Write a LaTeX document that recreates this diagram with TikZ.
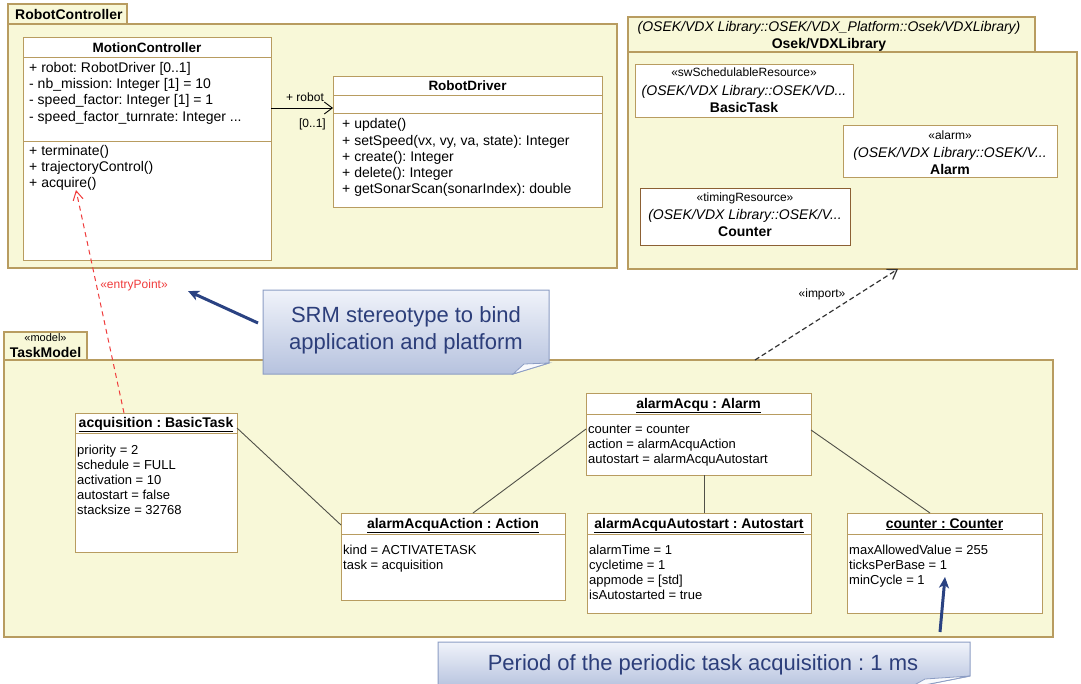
\documentclass[tikz,border=0pt]{standalone}
\usepackage{fontspec}
\setmainfont{Liberation Sans}
\usetikzlibrary{arrows.meta}

\definecolor{pkgfill}{RGB}{248,248,216}
\definecolor{tan}{RGB}{184,156,96}
\definecolor{darktan}{RGB}{140,96,52}
\definecolor{linkgrey}{RGB}{80,80,72}
\definecolor{epred}{RGB}{240,60,60}
\definecolor{noteTop}{RGB}{240,243,250}
\definecolor{noteBot}{RGB}{182,194,222}
\definecolor{noteLine}{RGB}{140,157,196}
\definecolor{noteText}{RGB}{44,62,122}
\definecolor{noteArrow}{RGB}{42,66,130}

\begin{document}
\frenchspacing
\begin{tikzpicture}[x=1pt,y=-1pt,
  pkg/.style={draw=tan, fill=pkgfill, line width=1.2pt, inner sep=0pt, outer sep=0pt, anchor=north west},
  box/.style={draw=tan, fill=white, line width=1pt, inner sep=0pt, outer sep=0pt, anchor=north west},
  divider/.style={draw=tan, line width=1pt},
  attr/.style={anchor=base west, inner sep=0pt, font=\fontsize{14}{16}\selectfont},
  oattr/.style={anchor=base west, inner sep=0pt, font=\fontsize{13}{15}\selectfont},
  hdr/.style={anchor=base, inner sep=0pt, font=\bfseries\fontsize{14}{16}\selectfont},
  ster/.style={anchor=base, inner sep=0pt, font=\fontsize{12}{14}\selectfont},
  ital/.style={anchor=base, inner sep=0pt, font=\itshape\fontsize{14}{16}\selectfont},
  small/.style={inner sep=0pt, font=\fontsize{12}{14}\selectfont},
  link/.style={draw=linkgrey, line width=0.9pt},
  assoc/.style={draw=black, line width=0.9pt, -{Straight Barb[length=8pt,width=12pt]}},
  imp/.style={draw=black!80, line width=1.2pt, dashed, dash pattern=on 5pt off 3pt, -{Straight Barb[length=9pt,width=12pt]}},
  entry/.style={draw=epred, line width=1pt, dash pattern=on 5pt off 4pt, -{Straight Barb[length=9pt,width=10pt]}},
  notebox/.style={top color=noteTop, bottom color=noteBot, draw=noteLine, line width=1pt},
  notetext/.style={anchor=base, inner sep=0pt, text=noteText, font=\fontsize{22}{27}\selectfont},
  notearrow/.style={draw=noteArrow, line width=3pt, -{Stealth[length=11pt,width=10pt,inset=3pt]}}
]
\useasboundingbox (0,0) rectangle (1081,683);
\fill[white] (0,0) rectangle (1081,683);

% ---------------- package RobotController ----------------
\node[pkg, minimum width=119pt, minimum height=20pt] (rcTab) at (8,4) {};
\node[pkg, minimum width=609pt, minimum height=244pt] (rcBody) at (8,24) {};
\node[anchor=base west, inner sep=0pt, font=\bfseries\fontsize{14}{16}\selectfont] (rcName) at (15,19) {RobotController};

% class MotionController
\node[box, minimum width=248pt, minimum height=223pt] (mc) at (23,37) {};
\draw[divider] (mc.west |- 0,57) -- (mc.east |- 0,57);
\draw[divider] (mc.west |- 0,141) -- (mc.east |- 0,141);
\node[hdr, font=\bfseries\fontsize{13.5}{16}\selectfont] (mcName) at (147,52) {MotionController};
\node[attr] (mcA1) at (29,72) {+ robot: RobotDriver [0..1]};
\node[attr] (mcA2) at (29,88) {- nb\_mission: Integer [1] = 10};
\node[attr] (mcA3) at (29,104) {- speed\_factor: Integer [1] = 1};
\node[attr] (mcA4) at (29,121) {- speed\_factor\_turnrate: Integer ...};
\node[attr] (mcO1) at (29,155.5) {+ terminate()};
\node[attr] (mcO2) at (29,171) {+ trajectoryControl()};
\node[attr] (mcO3) at (29,187.5) {+ acquire()};

% class RobotDriver
\node[box, minimum width=269pt, minimum height=131pt] (rd) at (333,76) {};
\draw[divider] (rd.west |- 0,95) -- (rd.east |- 0,95);
\draw[divider] (rd.west |- 0,113) -- (rd.east |- 0,113);
\node[hdr, font=\bfseries\fontsize{13.5}{16}\selectfont] (rdName) at (467.5,90) {RobotDriver};
\node[attr] (rdO1) at (342,128) {+ update()};
\node[attr] (rdO2) at (342,145) {+ setSpeed(vx, vy, va, state): Integer};
\node[attr] (rdO3) at (342,161) {+ create(): Integer};
\node[attr] (rdO4) at (342,177) {+ delete(): Integer};
\node[attr] (rdO5) at (342,193) {+ getSonarScan(sonarIndex): double};

% association robot
\draw[assoc] (mc.east |- 0,108) -- (rd.west |- 0,108);
\node[small, anchor=base] (roleName) at (305,101) {+ robot};
\node[small, anchor=base east] (roleMult) at (326,127) {[0..1]};

% ---------------- package Osek/VDXLibrary ----------------
\node[pkg, minimum width=407pt, minimum height=35pt] (osTab) at (628,17) {};
\node[pkg, minimum width=449pt, minimum height=217pt] (osBody) at (628,52) {};
\node[anchor=base, inner sep=0pt, font=\itshape\fontsize{14}{16}\selectfont] (osPath) at (829,31.5)
  {(OSEK/VDX Library::OSEK/VDX\_Platform::Osek/VDXLibrary)};
\node[anchor=base, inner sep=0pt, font=\bfseries\fontsize{14}{16}\selectfont] (osName) at (829,48) {Osek/VDXLibrary};

\node[box, minimum width=218pt, minimum height=53pt] (bt) at (635,64) {};
\node[ster] (btS) at (744,76) {«swSchedulableResource»};
\node[ital] (btP) at (744,95) {(OSEK/VDX Library::OSEK/VD...};
\node[hdr] (btN) at (744,112) {BasicTask};

\node[box, minimum width=214pt, minimum height=52pt] (al) at (843,125) {};
\node[ster] (alS) at (950,139) {«alarm»};
\node[ital] (alP) at (950,157) {(OSEK/VDX Library::OSEK/V...};
\node[hdr] (alN) at (950,174) {Alarm};

\node[box, draw=darktan, minimum width=210pt, minimum height=57pt] (ct) at (640,188) {};
\node[ster] (ctS) at (745,201) {«timingResource»};
\node[ital] (ctP) at (745,219) {(OSEK/VDX Library::OSEK/V...};
\node[hdr] (ctN) at (745,236) {Counter};

% ---------------- package TaskModel ----------------
\node[pkg, minimum width=83pt, minimum height=28pt] (tmTab) at (4,332) {};
\node[pkg, minimum width=1049pt, minimum height=277pt] (tmBody) at (4,360) {};
\node[anchor=base, inner sep=0pt, font=\fontsize{11}{13}\selectfont] (tmSter) at (45.5,341) {«model»};
\node[anchor=base, inner sep=0pt, font=\bfseries\fontsize{14}{16}\selectfont] (tmName) at (45.5,357) {TaskModel};

% import dependency
\draw[imp] (755,0 |- tmBody.north) -- (898,0 |- osBody.south);
\node[small, anchor=base] (impLbl) at (822,297) {«import»};

% object acquisition
\node[box, minimum width=162pt, minimum height=139pt] (acq) at (75,413) {};
\draw[divider] (acq.west |- 0,433) -- (acq.east |- 0,433);
\node[hdr] (acqN) at (156,427) {\underline{acquisition : BasicTask}};
\node[oattr] (acq1) at (77,454.5) {priority = 2};
\node[oattr] (acq2) at (77,469.5) {schedule = FULL};
\node[oattr] (acq3) at (77,484.5) {activation = 10};
\node[oattr] (acq4) at (77,499.5) {autostart = false};
\node[oattr] (acq5) at (77,514.5) {stacksize = 32768};

% object alarmAcquAction
\node[box, minimum width=224pt, minimum height=87pt] (act) at (341,513) {};
\draw[divider] (act.west |- 0,534) -- (act.east |- 0,534);
\node[hdr] (actN) at (453,528) {\underline{alarmAcquAction : Action}};
\node[oattr] (act1) at (343,554.5) {kind = ACTIVATETASK};
\node[oattr] (act2) at (343,569.5) {task = acquisition};

% object alarmAcqu
\node[box, minimum width=225pt, minimum height=82pt] (aa) at (586,393) {};
\draw[divider] (aa.west |- 0,414) -- (aa.east |- 0,414);
\node[hdr] (aaN) at (698.5,408) {\underline{alarmAcqu : Alarm}};
\node[oattr] (aa1) at (588,433.5) {counter = counter};
\node[oattr] (aa2) at (588,448.5) {action = alarmAcquAction};
\node[oattr] (aa3) at (588,463.5) {autostart = alarmAcquAutostart};

% object alarmAcquAutostart
\node[box, minimum width=224pt, minimum height=100pt] (as) at (587,513) {};
\draw[divider] (as.west |- 0,534) -- (as.east |- 0,534);
\node[hdr] (asN) at (699,528) {\underline{alarmAcquAutostart : Autostart}};
\node[oattr] (as1) at (589,554.5) {alarmTime = 1};
\node[oattr] (as2) at (589,569.5) {cycletime = 1};
\node[oattr] (as3) at (589,584.5) {appmode = [std]};
\node[oattr] (as4) at (589,599.5) {isAutostarted = true};

% object counter
\node[box, minimum width=195pt, minimum height=100pt] (cn) at (847,513) {};
\draw[divider] (cn.west |- 0,534) -- (cn.east |- 0,534);
\node[hdr] (cnN) at (944.5,528) {\underline{counter : Counter}};
\node[oattr] (cn1) at (849,554.5) {maxAllowedValue = 255};
\node[oattr] (cn2) at (849,569.5) {ticksPerBase = 1};
\node[oattr] (cn3) at (849,584.5) {minCycle = 1};

% links between objects
\draw[link] (acq.east |- 0,428) -- (act.west |- 0,525);
\draw[link] (aa.west |- 0,429) -- (473,0 |- act.north);
\draw[link] (704,0 |- aa.south) -- (704,0 |- as.north);
\draw[link] (aa.east |- 0,430) -- (930,0 |- cn.north);

% entry point binding
\draw[entry] (124,0 |- acq.north) -- (76,190);
\node[small, anchor=base, text=epred] (epLbl) at (134,288) {«entryPoint»};

% ---------------- notes ----------------
\path[notebox] (263,290) -- (549,290) -- (549,363) -- (513,374) -- (263,374) -- cycle;
\path[fill=white!60!noteTop, draw=noteLine, line width=0.8pt] (513,374) -- (524,364) -- (549,363) -- cycle;
\node[notetext] (srm1) at (406,322) {SRM stereotype to bind};
\node[notetext] (srm2) at (406,349) {application and platform};
\coordinate (srmTail) at (258,323);
\coordinate (srmTip) at (188,291);
\draw[notearrow] (srmTail) -- (srmTip);

\path[notebox] (438,642) -- (970,642) -- (970,676) -- (909,688) -- (438,688) -- cycle;
\path[fill=white!60!noteTop, draw=noteLine, line width=0.8pt] (909,688) -- (925,679) -- (970,676) -- cycle;
\node[notetext] (period) at (703,670) {Period of the periodic task acquisition : 1 ms};
\coordinate (perTail) at (940,632);
\coordinate (perTip) at (945,577);
\draw[notearrow] (perTail) -- (perTip);
\end{tikzpicture}
\end{document}
